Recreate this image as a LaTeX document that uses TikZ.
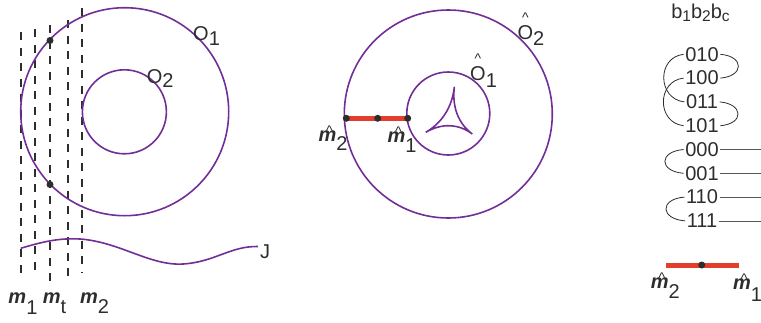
\documentclass[tikz,border=0pt]{standalone}
\usepackage{fontspec}
\setmainfont{Liberation Sans}
\usepackage{graphicx}
\usetikzlibrary{calc}
\tikzset{
    ringline/.style={draw=ringpurple, line width=1.6pt},
    ring/.style={circle, ringline, minimum size=#1, inner sep=0pt},
    dashline/.style={draw=inkgray, line width=2pt, dash pattern=on 8pt off 7.5pt},
    redbar/.style={draw=barred, line width=5pt},
    blackdot/.style={circle, fill=inkgray, inner sep=0pt, minimum size=7pt},
    lbl/.style={font=\fontsize{20}{20}\selectfont, text=inkgray, inner sep=0pt, anchor=base west},
    bitrow/.style={font=\fontsize{20}{20}\selectfont, text=inkgray, inner sep=1.5pt},
    bitlink/.style={draw=inkgray, line width=0.8pt},
    bitlead/.style={draw=inkgray!80, line width=0.8pt}
}
\definecolor{ringpurple}{RGB}{114,46,150}
\definecolor{barred}{RGB}{226,62,44}
\definecolor{inkgray}{RGB}{45,45,45}
\newcommand{\dn}[2][0.5em]{\raisebox{-#1}{#2}}
\newcommand{\mm}{\textbf{\textit{m}}}
\newcommand{\mh}{\rlap{\hspace{0.385em}\raisebox{0.3em}{\scalebox{0.7}{\textasciicircum}}}\mm}
\newcommand{\Oh}{\rlap{\hspace{0.225em}\raisebox{0.82em}{\scalebox{0.7}{\textasciicircum}}}O}
\newcommand{\sm}[1]{{\fontsize{15.5}{15.5}\selectfont #1}}

\begin{document}
\begin{tikzpicture}[x=1pt, y=-1pt]
\useasboundingbox (0,0) rectangle (761,322);

% left panel
\foreach \x/\ytop/\ybot [count=\k] in {20.7/32/276, 35/29.3/277, 50/25/284, 68.3/20/282, 82.2/8/272} {
    \coordinate (mt\k) at (\x,\ytop);
    \coordinate (mb\k) at (\x,\ybot);
    \draw[dashline] (mt\k) -- (mb\k);
}
\node[ring=208pt] (O1) at (124.7,111.7) {};
\node[ring=84pt] (O2) at (124.4,111.8) {};
\node[blackdot] (t1) at (50,40.5) {};
\node[blackdot] (t2) at (50,184.5) {};

\coordinate (js) at (20.7,248.3);
\coordinate (jend) at (258,246.5);
\draw[ringline] (js) .. controls (45,241) and (60,238) .. (80,239)
    .. controls (120,242) and (150,266) .. (183,264)
    .. controls (215,262) and (230,246) .. (jend);

\node[lbl] (o1lab) at (193,40) {O\dn[0.25em]{1}};
\node[lbl] (o2lab) at (146.7,83.3) {O\dn[0.2em]{2}};
\node[lbl] (jlab) at (260,258.5) {J};
\node[lbl] (m1lab) at (8.3,303) {\mm\dn[0.55em]{1}};
\node[lbl] (mtlab) at (42.7,303) {\mm\dn[0.5em]{t}};
\node[lbl] (m2lab) at (80,303) {\mm\dn[0.5em]{2}};

% middle panel
\node[ring=208pt] (Oh2) at (448.3,114) {};
\node[ring=83pt] (Oh1) at (448.3,113.5) {};

\coordinate (dc) at (450.8,117.9);
\coordinate (ca) at (454.3,87.3);
\coordinate (cb) at (425.7,132.3);
\coordinate (cc) at (472.3,134);
\draw[ringline, line cap=round] (ca) .. controls ($(ca)!0.65!(dc)$) and ($(cb)!0.65!(dc)$) .. (cb)
    .. controls ($(cb)!0.65!(dc)$) and ($(cc)!0.65!(dc)$) .. (cc)
    .. controls ($(cc)!0.65!(dc)$) and ($(ca)!0.65!(dc)$) .. (ca);

\coordinate (pa) at (346.3,118.3);
\coordinate (pm) at (377.7,118.3);
\coordinate (pb) at (407.7,118.3);
\draw[redbar] (pa) -- (pb);
\node[blackdot] (da) at (pa) {};
\node[blackdot] (dm) at (pm) {};
\node[blackdot] (db) at (pb) {};

\node[lbl] (mh2lab) at (318.3,141.7) {\mh\dn[0.42em]{2}};
\node[lbl] (mh1lab) at (387.3,142) {\mh\dn[0.5em]{1}};
\node[lbl] (oh2lab) at (517.3,39.3) {\Oh\dn[0.33em]{2}};
\node[lbl] (oh1lab) at (470,80) {\Oh\dn[0.35em]{1}};

% right panel
\node[lbl, anchor=base] (hdr) at (700.5,18.3) {b\dn[0.17em]{\sm{1}}b\dn[0.17em]{\sm{2}}b\dn[0.17em]{\sm{c}}};
\foreach \bits [count=\i from 0] in {010,100,011,101,000,001,110,111}
    \node[bitrow] (r\bits) at (702,{54.3+23.8*\i}) {\bits};

\draw[bitlink] (r010.west) .. controls +(-27,3) and +(-27,-3) .. (r011.west);
\draw[bitlink] (r100.west) .. controls +(-27,3) and +(-27,-3) .. (r101.west);
\draw[bitlink] (r010.east) .. controls +(24,2) and +(24,-2) .. (r100.east);
\draw[bitlink] (r011.east) .. controls +(24,2) and +(24,-2) .. (r101.east);
\draw[bitlink] (r000.west) .. controls +(-25,2) and +(-25,-2) .. (r001.west);
\draw[bitlink] (r110.west) .. controls +(-25,2) and +(-25,-2) .. (r111.west);

\coordinate (edge) at (761,0);
\foreach \bits in {000,001,110,111}
    \draw[bitlead] (r\bits.east) -- (r\bits.east -| edge);

\coordinate (qa) at (666,265);
\coordinate (qm) at (701.7,265);
\coordinate (qb) at (739.3,265);
\draw[redbar] (qa) -- (qb);
\node[blackdot] (dq) at (qm) {};

\node[lbl] (rm2lab) at (650.7,288.3) {\mh\dn[0.5em]{2}};
\node[lbl] (rm1lab) at (733,289) {\mh\dn[0.6em]{1}};

\end{tikzpicture}
\end{document}
